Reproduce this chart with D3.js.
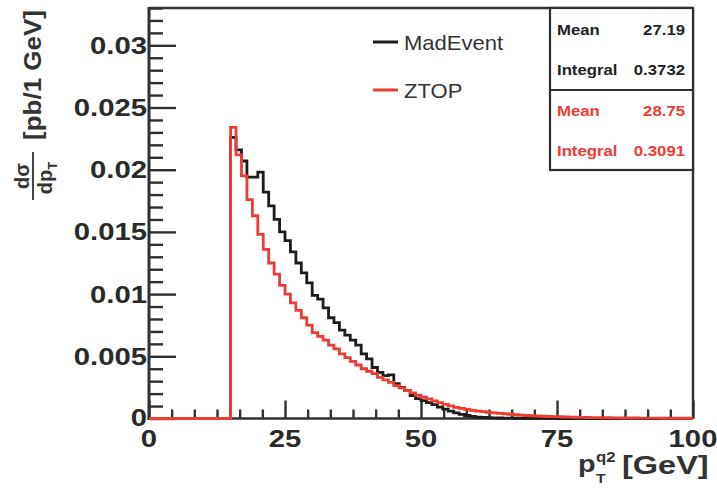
<!DOCTYPE html>
<html><head><meta charset="utf-8">
<script src="https://cdn.jsdelivr.net/npm/d3@7"></script>
<style>html,body{margin:0;padding:0;background:#fff;}svg{display:block;}</style>
</head><body>
<svg id="c" width="717" height="490"></svg>
<script>
// ---- data (1 GeV bins from 0 to 100) ----
const binEdges = d3.range(0, 101, 1);
const madEvent = [
0,0,0,0,0,0,0,0,0,0,0,0,0,0,0,
0.0226,0.0216,0.0207,0.0194,0.0194,0.0198,0.0182,0.0171,0.0160,0.0150,
0.0143,0.0134,0.0125,0.0117,0.0109,0.0099,0.0096,0.0089,0.0081,0.0077,
0.0071,0.0067,0.0063,0.0059,0.0052,0.0048,0.0041,0.0037,0.00345,0.0035,
0.0028,0.0025,0.00225,0.00185,0.0016,0.00144,0.00128,0.00112,0.00092,0.00075,
0.0006,0.00045,0.00033,0.00024,0.00017,0.00011,0.00008,0.00006,0.00005,0.00004,
0.00003,0.00003,0.00002,0.00002,0.00002,0.00002,0.00001,0.00001,0.00001,0.00001,
0,0,0,0,0,0,0,0,0,0,0,0,0,0,0,0,0,0,0,0,0,0,0,0,0
];
const ztop = [
0,0,0,0,0,0,0,0,0,0,0,0,0,0,0,
0.0234,0.0212,0.0195,0.0176,0.0163,0.0148,0.0136,0.0125,0.0116,0.0107,
0.0100,0.0093,0.0087,0.0081,0.0075,0.0069,0.0066,0.0063,0.0059,0.0056,
0.0052,0.0049,0.0046,0.0043,0.0040,0.0038,0.0036,0.0033,0.0031,0.0029,
0.00265,0.00246,0.00225,0.00206,0.00187,0.00171,0.00158,0.00142,0.00128,0.00113,
0.00101,0.0009,0.00082,0.00074,0.00066,0.0006,0.00055,0.0005,0.00046,0.00042,
0.00038,0.00034,0.0003,0.00027,0.00024,0.00022,0.0002,0.00018,0.00016,0.00015,
0.00014,0.00012,0.00011,0.0001,0.00009,0.00008,0.00007,0.00007,0.00006,0.00006,
0.00005,0.00005,0.00004,0.00004,0.00004,0.00003,0.00003,0.00003,0.00003,0.00002,
0.00002,0.00002,0.00002,0.00002,0.00002
];
const seriesNames = ["MadEvent", "ZTOP"];
const seriesColors = ["#1c1c1c", "#ee3b33"];
const xTickValues = [0, 25, 50, 75, 100];
const xTickLabels = ["0", "25", "50", "75", "100"];
const yTickValues = [0, 0.005, 0.01, 0.015, 0.02, 0.025, 0.03];
const yTickLabels = ["0", "0.005", "0.01", "0.015", "0.02", "0.025", "0.03"];
const statNames = ["Mean", "Integral"];
const statValues = [["27.19", "0.3732"], ["28.75", "0.3091"]];

// ---- layout ----
const L = 149, R = 693, T = 8, B = 418.5;
const FONT = "'Liberation Sans', Arial, Helvetica, sans-serif";
const svg = d3.select("#c");
const x = d3.scaleLinear().domain([0, 100]).range([L, R]);
const y = d3.scaleLinear().domain([0, 0.033]).range([B, T]);
const axisCol = "#303030";

function txt(parent, px, py, str, o) {
  o = o || {};
  return parent.append("text")
    .attr("transform", `translate(${px},${py}) scale(${o.sx || 1},1)`)
    .attr("font-family", FONT)
    .attr("font-size", o.size || 16)
    .attr("font-weight", o.weight || "bold")
    .attr("fill", o.fill || "#222")
    .attr("text-anchor", o.anchor || "start")
    .text(str);
}

// X axis ticks (6 subdivisions per major)
const gx = svg.append("g").attr("transform", `translate(0,${B})`)
  .call(d3.axisTop(x).tickValues(xTickValues).tickSize(18).tickFormat(""));
const xMinor = d3.range(0, 100.001, 25 / 6).filter(v => xTickValues.every(m => Math.abs(m - v) > 0.01));
const gxm = svg.append("g").attr("transform", `translate(0,${B})`)
  .call(d3.axisTop(x).tickValues(xMinor).tickSize(9).tickFormat(""));
// Y axis ticks
const gy = svg.append("g").attr("transform", `translate(${L},0)`)
  .call(d3.axisRight(y).tickValues(yTickValues).tickSize(27).tickFormat(""));
const yMinor = d3.range(0, 0.0331, 0.001).filter(v => yTickValues.every(m => Math.abs(m - v) > 1e-6));
const gym = svg.append("g").attr("transform", `translate(${L},0)`)
  .call(d3.axisRight(y).tickValues(yMinor).tickSize(14).tickFormat(""));
[gx, gxm, gy, gym].forEach(g => {
  g.select(".domain").remove();
  g.selectAll("line").attr("stroke", axisCol).attr("stroke-width", 2.4);
});

// frame
svg.append("line").attr("x1", L).attr("x2", R).attr("y1", T).attr("y2", T).attr("stroke", axisCol).attr("stroke-width", 2.4);
svg.append("line").attr("x1", R).attr("x2", R).attr("y1", T).attr("y2", B).attr("stroke", axisCol).attr("stroke-width", 2.4);
svg.append("line").attr("x1", L).attr("x2", L).attr("y1", T - 1).attr("y2", B + 1.5).attr("stroke", axisCol).attr("stroke-width", 3);
svg.append("line").attr("x1", L - 1.5).attr("x2", R).attr("y1", B).attr("y2", B).attr("stroke", axisCol).attr("stroke-width", 2.6);

// histograms (drawn over the frame, ZTOP last)
const line = d3.line().x(d => x(d[0])).y(d => y(d[1])).curve(d3.curveStepAfter);
[madEvent, ztop].forEach((vals, k) => {
  const pts = vals.map((v, i) => [binEdges[i], v]);
  pts.push([binEdges[100], vals[99]]);
  svg.append("path")
    .attr("d", line(pts)).attr("fill", "none")
    .attr("stroke", seriesColors[k]).attr("stroke-width", 2.8);
});

// tick labels
xTickValues.forEach((v, i) => txt(svg, x(v), 447, xTickLabels[i], {size: 24, sx: 1.22, anchor: "middle", fill: "#2a2a2a"}));
yTickValues.forEach((v, i) => txt(svg, 147, y(v) + (v === 0 ? 7 : 8.5), yTickLabels[i], {size: 24, sx: 1.22, anchor: "end", fill: "#2a2a2a"}));

// legend
const legY = [42, 90];
seriesNames.forEach((n, k) => {
  svg.append("line").attr("x1", 373).attr("x2", 398).attr("y1", legY[k]).attr("y2", legY[k])
    .attr("stroke", seriesColors[k]).attr("stroke-width", 3);
  txt(svg, 404, legY[k] + 7.5, n, {size: 21, sx: 1.05, weight: "normal", fill: "#333"});
});

// stats box
const sb = svg.append("g");
sb.append("rect").attr("x", 550).attr("y", T).attr("width", R - 550).attr("height", 170 - T)
  .attr("fill", "#fff").attr("stroke", axisCol).attr("stroke-width", 2.2);
sb.append("line").attr("x1", 550).attr("x2", R).attr("y1", 90).attr("y2", 90).attr("stroke", axisCol).attr("stroke-width", 2.2);
const statBase = [[35, 75], [116, 156]];
statValues.forEach((vals, k) => {
  const col = k === 0 ? "#222" : seriesColors[1];
  statNames.forEach((n, j) => {
    txt(sb, 557, statBase[k][j], n, {size: 15.5, sx: 1.08, fill: col});
    txt(sb, 685, statBase[k][j], vals[j], {size: 15.5, sx: 1.08, fill: col, anchor: "end"});
  });
});

// y axis title (rotated)
const yt = svg.append("g").attr("transform", "rotate(-90)").attr("font-family", FONT).attr("font-weight", "bold").attr("fill", "#333");
yt.append("text").attr("x", -176).attr("y", 29).attr("text-anchor", "middle").attr("font-size", 20).text("dσ");
yt.append("line").attr("x1", -200).attr("x2", -152).attr("y1", 33).attr("y2", 33).attr("stroke", "#444").attr("stroke-width", 2);
const den = yt.append("text").attr("x", -178).attr("y", 52).attr("text-anchor", "middle").attr("font-size", 20);
den.append("tspan").text("dp");
den.append("tspan").attr("font-size", 13).attr("dy", 5).text("T");
yt.append("text").attr("x", -75).attr("y", 41).attr("text-anchor", "middle").attr("font-size", 23)
  .attr("textLength", 130).attr("lengthAdjust", "spacingAndGlyphs").text("[pb/1  GeV]");

// x axis title
const xt = svg.append("g");
txt(xt, 578, 472, "p", {size: 24, sx: 1.2, fill: "#333"});
txt(xt, 596, 483, "T", {size: 13, sx: 1.2, fill: "#333"});
txt(xt, 596, 462, "q2", {size: 14, sx: 1.2, fill: "#333"});
txt(xt, 622, 474, "[GeV]", {size: 25, sx: 1.3, fill: "#333"});
</script>
</body></html>
